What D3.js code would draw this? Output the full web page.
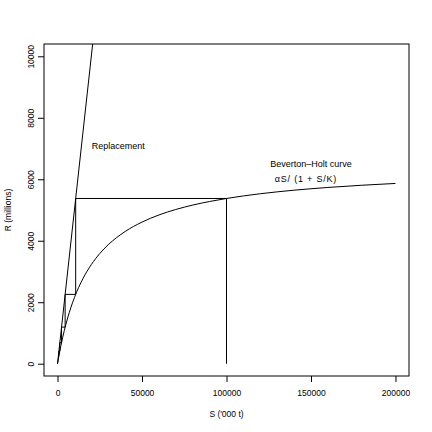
<!DOCTYPE html>
<html>
<head>
<meta charset="utf-8">
<script src="https://cdn.jsdelivr.net/npm/d3@7"></script>
<style>
  body { margin: 0; background: #fff; }
  svg text { font-family: "Liberation Sans", Arial, Helvetica, sans-serif; fill: #000; }
  .axis text { font-size: 8.5px; }
  .axis line { stroke: #000; }
</style>
</head>
<body>
<div id="chart"></div>
<script>
// Beverton-Holt curve, values (S in '000 t, R in millions)
let curveS = [0, 1000, 2000, 3000, 4000, 5000, 6000, 8000, 10000, 12500, 15000, 20000, 25000,
    30000, 40000, 50000, 60000, 70000, 80000, 90000, 100000, 120000, 140000, 160000, 180000, 200000];
let curveR = [0, 307, 586, 841, 1075, 1290, 1488, 1843, 2150, 2481, 2764, 3225, 3583,
    3870, 4300, 4607, 4838, 5017, 5160, 5277, 5375, 5529, 5644, 5733, 5805, 5864];

// replacement line (runs off the top of the plot)
let replS = [0, 22000];
let replR = [0, 11000];

// cobweb steps starting at S = 100000
let cobS = [100000, 100000, 10750, 10750, 4510, 4510, 2370, 2370, 1370, 1370, 830, 830];
let cobR = [0, 5375, 5375, 2255, 2255, 1190, 1190, 685, 685, 413, 413, 256];

let xTicks = [0, 50000, 100000, 150000, 200000];
let yTicks = [0, 2000, 4000, 6000, 8000, 10000];

let margin = {top: 44, right: 23, bottom: 56, left: 44};
let width = 432 - margin.left - margin.right;
let height = 432 - margin.top - margin.bottom;

let svg = d3.select("#chart").append("svg")
    .attr("width", 432)
    .attr("height", 432);

let g = svg.append("g")
    .attr("transform", "translate(" + margin.left + "," + margin.top + ")");

// R style 4% padding round the data range
let x = d3.scaleLinear().domain([-8000, 208000]).range([0, width]);
let y = d3.scaleLinear().domain([-400, 10400]).range([height, 0]);

g.append("clipPath").attr("id", "clip")
    .append("rect").attr("width", width).attr("height", height);

// axes
let xAxis = d3.axisBottom(x).tickValues(xTicks).tickSize(6).tickPadding(8)
    .tickFormat(d3.format("d"));
let yAxis = d3.axisLeft(y).tickValues(yTicks).tickSize(6).tickPadding(0)
    .tickFormat(d3.format("d"));

let xg = g.append("g").attr("class", "axis")
    .attr("transform", "translate(0," + height + ")")
    .call(xAxis);
xg.select(".domain").remove();
xg.selectAll("text").attr("dy", null).attr("y", 17).attr("dominant-baseline", "central");

let yg = g.append("g").attr("class", "axis").call(yAxis);
yg.select(".domain").remove();
yg.selectAll("text")
    .attr("x", null).attr("dy", null)
    .attr("text-anchor", "middle")
    .attr("dominant-baseline", "central")
    .attr("transform", "translate(-13,0) rotate(-90)");

// box
g.append("rect")
    .attr("width", width).attr("height", height)
    .attr("fill", "none").attr("stroke", "#000").attr("stroke-width", 1);

let plot = g.append("g").attr("clip-path", "url(#clip)");

let bhLine = d3.line()
    .x(i => x(curveS[i]))
    .y(i => y(curveR[i]))
    .curve(d3.curveMonotoneX);

plot.append("path")
    .attr("d", bhLine(d3.range(curveS.length)))
    .attr("fill", "none").attr("stroke", "#000").attr("stroke-width", 1);

let straight = d3.line();

plot.append("path")
    .attr("d", straight(replS.map((s, i) => [x(s), y(replR[i])])))
    .attr("fill", "none").attr("stroke", "#000").attr("stroke-width", 1);

plot.append("path")
    .attr("d", straight(cobS.map((s, i) => [x(s), y(cobR[i])])))
    .attr("fill", "none").attr("stroke", "#000").attr("stroke-width", 1);

// labels
g.append("text")
    .attr("x", x(36000)).attr("y", y(7070))
    .attr("text-anchor", "middle").attr("dominant-baseline", "central")
    .style("font-size", "9px")
    .text("Replacement");

g.append("text")
    .attr("x", x(150000)).attr("y", y(6500))
    .attr("text-anchor", "middle").attr("dominant-baseline", "central")
    .style("font-size", "9px")
    .text("Beverton\u2013Holt curve");

g.append("text")
    .attr("x", x(147000)).attr("y", y(6000))
    .attr("text-anchor", "middle").attr("dominant-baseline", "central")
    .style("font-size", "9px")
    .style("letter-spacing", "0.8px")
    .text("\u03b1S/ (1 + S/K)");

// axis titles
svg.append("text")
    .attr("x", margin.left + width / 2).attr("y", 414)
    .attr("text-anchor", "middle").attr("dominant-baseline", "central")
    .style("font-size", "8.5px")
    .text("S ('000 t)");

svg.append("text")
    .attr("transform", "translate(8," + (margin.top + height / 2) + ") rotate(-90)")
    .attr("text-anchor", "middle").attr("dominant-baseline", "central")
    .style("font-size", "8.5px")
    .text("R (millions)");
</script>
</body>
</html>
